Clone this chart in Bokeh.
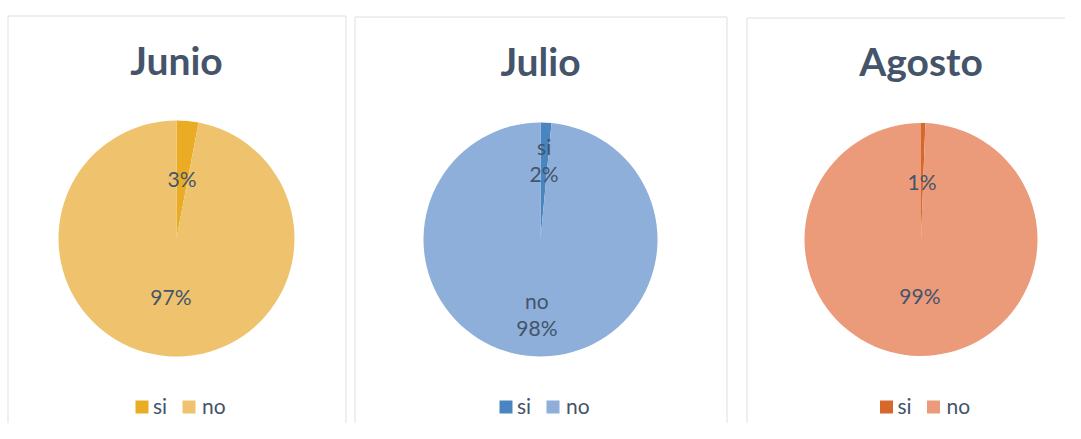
import math
from bokeh.plotting import figure
from bokeh.models import Range1d
from bokeh.core.properties import value
from bokeh.embed import file_html
from bokeh.resources import INLINE

# ---------------- data ----------------
months = ["Junio", "Julio", "Agosto"]
categories = ["si", "no"]
junio_values = [3.0, 97.0]
julio_values = [1.5, 98.5]
agosto_values = [0.6, 99.4]
series = [junio_values, julio_values, agosto_values]
show_category_in_label = [False, True, False]

si_colors = ["#EAAC24", "#4A85C2", "#D7682B"]
no_colors = ["#EFC36E", "#8DAFDA", "#EB9B7A"]
TEXT = "#44546A"
BORDER = "#DCDFE4"

# ---------------- layout (picture pixels) ----------------
FW, FH = 1065, 423
def Y(yp):
    return FH - yp

def baseline(yb, size):
    # place the text so that its alphabetic baseline lands at yb
    return Y(yb - 0.43 * size)

TITLE_SIZE = 39
LABEL_SIZE = 21

panel_left = [7.5, 354.5, 746.5]
panel_right = [345.5, 726.5, 1120.0]
panel_top = [15.5, 16.5, 17.5]
pie_cx = [176.0, 540.0, 920.5]
pie_cy = [238.0, 239.0, 239.0]
pie_r = [118.0, 117.0, 116.5]
label_k = [0.5, 0.655, 0.49]
title_baseline = [76.5, 77.0, 77.0]

p = figure(width=FW, height=FH, x_range=Range1d(0, FW), y_range=Range1d(0, FH),
           output_backend="svg", toolbar_location=None, min_border=0,
           background_fill_color="white", border_fill_color="white")
p.axis.visible = False
p.grid.visible = False
p.outline_line_color = None

for i, month in enumerate(months):
    vals = series[i]
    total = sum(vals)
    cx, cy, R = pie_cx[i], pie_cy[i], pie_r[i]

    # panel border
    p.quad(left=panel_left[i], right=panel_right[i], top=Y(panel_top[i]), bottom=Y(470),
           fill_color=None, line_color=BORDER, line_width=1)

    # title
    p.text(x=[cx], y=[baseline(title_baseline[i], TITLE_SIZE)], text=[month],
           text_align="center", text_baseline="alphabetic", text_font=value("Lato"),
           text_font_style="bold", text_font_size=f"{TITLE_SIZE}px", text_color=TEXT)

    colors = [si_colors[i], no_colors[i]]
    cum = 0.0
    for j, cat in enumerate(categories):
        f0 = cum / total
        cum += vals[j]
        f1 = cum / total
        start = math.pi / 2 - 2 * math.pi * f0
        end = math.pi / 2 - 2 * math.pi * f1
        p.wedge(x=[cx], y=[Y(cy)], radius=R, start_angle=start, end_angle=end,
                direction="clock", fill_color=colors[j], line_color=None)

    # data labels
    cum = 0.0
    for j, cat in enumerate(categories):
        f0 = cum / total
        cum += vals[j]
        f1 = cum / total
        mid = math.pi / 2 - 2 * math.pi * (f0 + f1) / 2
        lx = cx + label_k[i] * R * math.cos(mid)
        ly = cy - label_k[i] * R * math.sin(mid)
        pct = f"{round(vals[j] / total * 100)}%"
        common = dict(text_align="center", text_baseline="alphabetic",
                      text_font=value("Lato"), text_font_size=f"{LABEL_SIZE}px",
                      text_color=TEXT)
        if show_category_in_label[i]:
            p.text(x=[lx], y=[baseline(ly - 7, LABEL_SIZE)], text=[cat], **common)
            p.text(x=[lx], y=[baseline(ly + 20, LABEL_SIZE)], text=[pct], **common)
        else:
            p.text(x=[lx], y=[baseline(ly + 8, LABEL_SIZE)], text=[pct], **common)

    # legend
    sq_x = [cx - 34.5, cx + 12.5]
    tx_x = [cx - 23.5, cx + 25.5]
    for j, cat in enumerate(categories):
        p.rect(x=[sq_x[j]], y=[Y(406.5)], width=13, height=13,
               fill_color=colors[j], line_color=None)
        p.text(x=[tx_x[j]], y=[baseline(414, LABEL_SIZE)], text=[cat], text_align="left",
               text_baseline="alphabetic", text_font=value("Lato"),
               text_font_size=f"{LABEL_SIZE}px", text_color=TEXT)

open("out.html", "w").write(file_html(p, INLINE))
